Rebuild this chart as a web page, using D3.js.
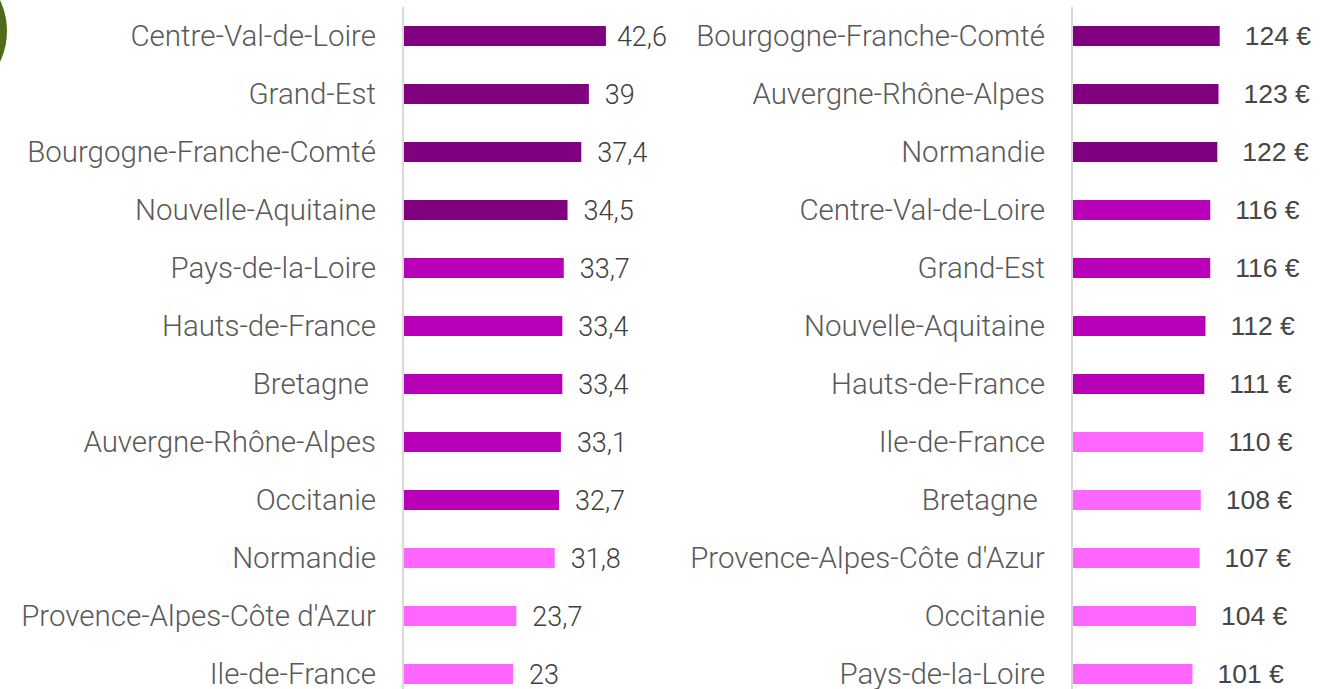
<!DOCTYPE html>
<html>
<head>
<meta charset="utf-8">
<script src="https://cdn.jsdelivr.net/npm/d3@7"></script>
<style>
  html, body { margin: 0; padding: 0; background: #ffffff; overflow: hidden; }
  svg { display: block; }
  text { white-space: pre; }
</style>
</head>
<body>
<svg id="chart" width="1342" height="689"></svg>
<script>
// ---- Data ----
const leftCategories = ["Centre-Val-de-Loire", "Grand-Est", "Bourgogne-Franche-Comté", "Nouvelle-Aquitaine",
  "Pays-de-la-Loire", "Hauts-de-France", "Bretagne ", "Auvergne-Rhône-Alpes", "Occitanie", "Normandie",
  "Provence-Alpes-Côte d'Azur", "Ile-de-France"];
const leftValues = [42.6, 39, 37.4, 34.5, 33.7, 33.4, 33.4, 33.1, 32.7, 31.8, 23.7, 23];
const leftGroups = [0, 0, 0, 0, 1, 1, 1, 1, 1, 2, 2, 2];

const rightCategories = ["Bourgogne-Franche-Comté", "Auvergne-Rhône-Alpes", "Normandie", "Centre-Val-de-Loire",
  "Grand-Est", "Nouvelle-Aquitaine", "Hauts-de-France", "Ile-de-France", "Bretagne ",
  "Provence-Alpes-Côte d'Azur", "Occitanie", "Pays-de-la-Loire"];
const rightValues = [124, 123, 122, 116, 116, 112, 111, 110, 108, 107, 104, 101];
const rightGroups = [0, 0, 0, 1, 1, 1, 1, 2, 2, 2, 2, 2];

const groupColors = ["#800080", "#b800b8", "#ff66ff"];

// ---- Layout ----
const svg = d3.select("#chart");
const W = 1342, H = 689;
const catFont = "Roboto, 'Liberation Sans', Arial, sans-serif";

// decorative circle top-left
svg.append("circle").attr("cx", -65).attr("cy", 31).attr("r", 72).attr("fill", "#4e6b1c");

function fitFontSize(str, targetWidth, family, weight) {
  const t = svg.append("text").attr("font-family", family).attr("font-weight", weight)
    .attr("font-size", 100).text(str);
  const w = t.node().getComputedTextLength();
  t.remove();
  return 100 * targetWidth / w;
}
const catSize = fitFontSize("Provence-Alpes-Côte d'Azur", 355, catFont, 300);

function drawPanel(opts) {
  const { cats, vals, groups, axisX, xMax, pxPerUnit, labelRight, fmt, gap, valFont, valWeight, valSize, valColor, clampRight } = opts;
  const y = d3.scaleBand().domain(cats.map((c, i) => i))
    .range([7, 7 + 58 * 12]).paddingInner(38 / 58).paddingOuter(19 / 58);
  const x = d3.scaleLinear().domain([0, xMax]).range([axisX + 1, axisX + 1 + xMax * pxPerUnit]);
  const g = svg.append("g");
  const mid = i => y(i) + y.bandwidth() / 2;

  // axis line
  g.append("line").attr("x1", axisX).attr("x2", axisX).attr("y1", 7).attr("y2", H)
    .attr("stroke", "#d9d9d9").attr("stroke-width", 2);

  // bars
  g.selectAll("rect.bar").data(vals).join("rect")
    .attr("class", "bar")
    .attr("x", x(0))
    .attr("y", (d, i) => y(i))
    .attr("width", d => x(d) - x(0))
    .attr("height", y.bandwidth())
    .attr("fill", (d, i) => groupColors[groups[i]]);

  // category labels (cap height centred on bar)
  g.selectAll("text.cat").data(cats).join("text")
    .attr("class", "cat")
    .attr("x", labelRight)
    .attr("y", (d, i) => mid(i) + 0.355 * catSize)
    .attr("text-anchor", "end")
    .attr("font-family", catFont)
    .attr("font-weight", 300)
    .attr("font-size", catSize)
    .attr("fill", "#595959")
    .text(d => d);

  // value labels
  g.selectAll("text.val").data(vals).join("text")
    .attr("class", "val")
    .attr("y", (d, i) => mid(i) + 0.355 * valSize)
    .attr("font-family", valFont)
    .attr("font-weight", valWeight)
    .attr("font-size", valSize)
    .attr("fill", valColor)
    .text(d => fmt(d))
    .attr("x", function (d) {
      let px = x(d) + gap;
      if (clampRight) {
        const w = this.getComputedTextLength();
        px = Math.min(px, clampRight - w);
      }
      return px;
    });
}

const commaFmt = d => String(d).replace(".", ",");

drawPanel({
  cats: leftCategories, vals: leftValues, groups: leftGroups,
  axisX: 403, xMax: 45, pxPerUnit: 4.74, labelRight: 376,
  fmt: commaFmt, gap: 16, valFont: catFont, valWeight: 300, valSize: 27, valColor: "#404040", clampRight: 667
});

drawPanel({
  cats: rightCategories, vals: rightValues, groups: rightGroups,
  axisX: 1072, xMax: 140, pxPerUnit: 1.183, labelRight: 1045,
  fmt: d => d + " €", gap: 25, valFont: "'Liberation Sans', Arial, sans-serif", valWeight: 400, valSize: 26.5, valColor: "#464646", clampRight: null
});
</script>
</body>
</html>
